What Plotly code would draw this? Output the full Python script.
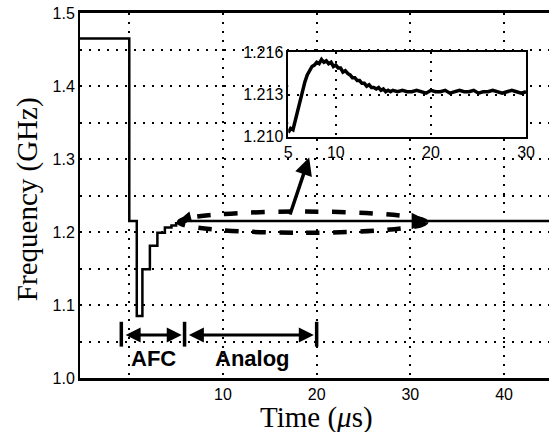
import plotly.graph_objects as go

# ---- main trace (frequency vs time, GHz / us) ----
t_main = [-5.3, 0.0, 0.8, 1.4, 2.2, 3.0, 3.8, 4.5, 5.0, 5.5, 6.0, 10.0, 20.0, 30.0, 40.0, 45.0]
f_main = [1.465, 1.215, 1.085, 1.149, 1.181, 1.199, 1.206, 1.209, 1.212, 1.214, 1.215, 1.215, 1.215, 1.215, 1.215, 1.215]

# ---- inset trace (zoom of settling) ----
t_inset = [5.0, 5.25, 5.5, 5.75, 6.0, 6.25, 6.5, 6.75, 7.0, 7.25, 7.5, 7.75, 8.0, 8.25, 8.5, 8.75,
           9.0, 9.25, 9.5, 9.75, 10.0, 10.25, 10.5, 10.75, 11.0, 11.25, 11.5, 11.75, 12.0, 12.25,
           12.5, 12.75, 13.0, 13.25, 13.5, 13.75, 14.0, 14.25, 14.5, 14.75, 15.0, 15.25, 15.5,
           15.75, 16.0, 16.5, 17.0, 17.5, 18.0, 18.5, 19.0, 19.5, 20.0, 20.5, 21.0, 21.5, 22.0,
           22.5, 23.0, 23.5, 24.0, 24.5, 25.0, 25.5, 26.0, 26.5, 27.0, 27.5, 28.0, 28.5, 29.0,
           29.5, 30.0]
f_inset = [1.2103, 1.2106, 1.2105, 1.2112, 1.2120, 1.2127, 1.2133, 1.2139, 1.2144, 1.2147,
           1.2150, 1.2151, 1.2153, 1.2152, 1.2155, 1.2153, 1.2154, 1.2152, 1.2153, 1.2150,
           1.2151, 1.2149, 1.2149, 1.2146, 1.2147, 1.2145, 1.2144, 1.2142, 1.2142, 1.2140,
           1.2140, 1.2138, 1.2138, 1.2136, 1.2137, 1.2135, 1.2135, 1.2134, 1.2135, 1.2133,
           1.2134, 1.2132, 1.2133, 1.2132, 1.2133, 1.2132, 1.2133, 1.2132, 1.2132, 1.2133,
           1.2132, 1.2131, 1.2133, 1.2132, 1.2132, 1.2133, 1.2131, 1.2132, 1.2133, 1.2132,
           1.2132, 1.2133, 1.2131, 1.2132, 1.2132, 1.2133, 1.2132, 1.2131, 1.2132, 1.2133,
           1.2132, 1.2131, 1.2132]

# ---- tick labels ----
x_ticks = [0, 10, 20, 30, 40]
x_ticktext = ["", "10", "20", "30", "40"]
y_ticks = [1.0, 1.05, 1.1, 1.15, 1.2, 1.25, 1.3, 1.35, 1.4, 1.45, 1.5]
y_ticktext = ["1.0", "", "1.1", "", "1.2", "", "1.3", "", "1.4", "", "1.5"]
xi_ticks = [5, 10, 20, 30]
yi_ticks = [1.210, 1.213, 1.216]

fig = go.Figure()
fig.add_trace(go.Scatter(x=t_main, y=f_main, mode="lines", line=dict(color="black", width=2.5, shape="hv"),
                         showlegend=False, hoverinfo="skip"))
fig.add_trace(go.Scatter(x=t_inset, y=f_inset, mode="lines", line=dict(color="black", width=3.5),
                         xaxis="x2", yaxis="y2", showlegend=False, hoverinfo="skip"))

tickfont = dict(family="Liberation Sans, Arial", size=16, color="black")
titlefont = dict(family="Liberation Serif, Times New Roman", size=29, color="black")
grid = dict(showgrid=True, gridcolor="black", griddash="2px,7px", gridwidth=1.5)

fig.update_layout(
    width=549, height=432,
    margin=dict(l=80, r=0, t=13, b=54),
    paper_bgcolor="white", plot_bgcolor="white",
    xaxis=dict(domain=[0, 1], range=[-5.26, 44.8], tickvals=x_ticks, ticktext=x_ticktext,
               showline=True, linecolor="black", linewidth=2.5, mirror=True, zeroline=False,
               ticks="", tickfont=tickfont, automargin=False, **grid),
    yaxis=dict(range=[1.0, 1.5], tickvals=y_ticks, ticktext=y_ticktext,
               showline=True, linecolor="black", linewidth=2, zeroline=False,
               ticks="", tickfont=tickfont, automargin=False, **grid),
    xaxis2=dict(domain=[0.444, 0.951], anchor="y2", range=[5, 30], tickvals=xi_ticks,
                showline=True, linecolor="black", linewidth=1.5, mirror=True, zeroline=False,
                ticks="", tickfont=tickfont, automargin=False, **grid),
    yaxis2=dict(domain=[0.661, 0.892], anchor="x2", range=[1.210, 1.216], tickvals=yi_ticks,
                tickformat=".3f",
                showline=True, linecolor="black", linewidth=1.5, mirror=True, zeroline=False,
                ticks="", tickfont=tickfont, automargin=False, **grid),
)

# axis titles
fig.add_annotation(xref="paper", yref="paper", x=0.505, y=-0.108, yanchor="middle",
                   text="Time (<i>μ</i>s)", showarrow=False, font=titlefont)
fig.add_annotation(xref="paper", yref="paper", x=-0.113, y=0.49, xanchor="center",
                   text="Frequency (GHz)", textangle=-90, showarrow=False, font=titlefont)

# white background of inset (hides main grid)
fig.add_shape(type="rect", xref="x2 domain", yref="y2 domain", x0=0, x1=1, y0=0, y1=1,
              fillcolor="white", line=dict(width=0), layer="below")

# dashed ellipse around settling region
fig.add_shape(type="circle", xref="x", yref="y", x0=5.3, x1=31.7, y0=1.199, y1=1.228,
              line=dict(color="black", width=4.5, dash="dash"))
# arrowheads at ends of ellipse
fig.add_annotation(x=31.9, y=1.215, ax=-16, ay=0, text="", showarrow=True, arrowhead=2,
                   arrowsize=1.1, arrowwidth=3, arrowcolor="black")
fig.add_annotation(x=5.4, y=1.217, ax=8, ay=-2, text="", showarrow=True, arrowhead=2,
                   arrowsize=0.9, arrowwidth=2.5, arrowcolor="black")
# arrow to inset
fig.add_annotation(x=19.2, y=1.302, ax=17.1, ay=1.222, axref="x", ayref="y", text="",
                   showarrow=True, arrowhead=2, arrowsize=1.0, arrowwidth=3.5, arrowcolor="black")

# AFC / Analog dimension markers
for xb in [-0.85, 5.9, 20.0]:
    fig.add_shape(type="line", xref="x", yref="y", x0=xb, x1=xb, y0=1.043, y1=1.077,
                  line=dict(color="black", width=3.5))
fig.add_annotation(x=5.6, y=1.059, ax=-0.55, ay=1.059, axref="x", ayref="y", text="",
                   showarrow=True, arrowhead=2, startarrowhead=2, arrowside="end+start",
                   arrowsize=1.0, startarrowsize=1.0, arrowwidth=3, arrowcolor="black")
fig.add_annotation(x=19.7, y=1.059, ax=6.2, ay=1.059, axref="x", ayref="y", text="",
                   showarrow=True, arrowhead=2, startarrowhead=2, arrowside="end+start",
                   arrowsize=1.0, startarrowsize=1.0, arrowwidth=3, arrowcolor="black")
labfont = dict(family="Liberation Sans, Arial", size=22, color="black")
fig.add_annotation(x=2.6, y=1.027, text="<b>AFC</b>", showarrow=False, font=labfont)
fig.add_annotation(x=13.1, y=1.027, text="<b>Analog</b>", showarrow=False, font=labfont)

fig.write_html("out.html", config={"displayModeBar": False},
               post_script="document.body.style.margin='0';document.body.style.overflow='hidden';")
